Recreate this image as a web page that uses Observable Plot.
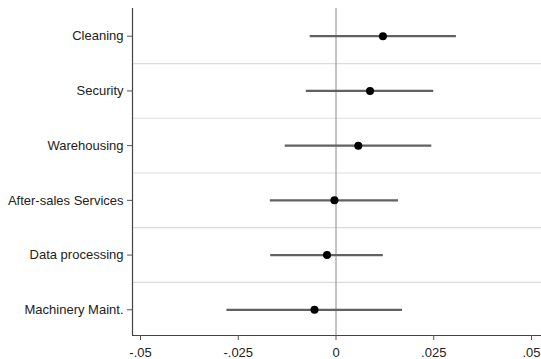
<!DOCTYPE html>
<html>
<head>
<meta charset="utf-8">
<script src="https://cdn.jsdelivr.net/npm/d3@7"></script>
<script src="https://cdn.jsdelivr.net/npm/@observablehq/plot@0.6"></script>
<style>
  html, body { margin: 0; padding: 0; background: white; }
</style>
</head>
<body>
<div id="chart"></div>
<script>
const categories = ["Cleaning", "Security", "Warehousing", "After-sales Services", "Data processing", "Machinery Maint."];
const estimates = [0.0120, 0.0087, 0.0057, -0.0004, -0.0023, -0.0055];
const lower = [-0.0066, -0.0076, -0.0130, -0.0168, -0.0167, -0.0279];
const upper = [0.0308, 0.0250, 0.0245, 0.0160, 0.0121, 0.0170];
const xTicks = [-0.05, -0.025, 0, 0.025, 0.05];
const xTickLabels = ["-.05", "-.025", "0", ".025", ".05"];

const data = categories.map((c, i) => ({cat: c, i, est: estimates[i], lo: lower[i], hi: upper[i]}));
const gridPos = d3.range(categories.length - 1).map(i => i + 0.5);
const xDomain = [-0.05205, 0.05256];
const yDomain = [-0.506, 5.47];

const chart = Plot.plot({
  width: 541,
  height: 359,
  marginLeft: 132,
  marginRight: 0,
  marginTop: 8,
  marginBottom: 24,
  style: {fontFamily: "'Liberation Sans', Arial, sans-serif", fontSize: "13px", color: "#222", background: "white"},
  x: {domain: xDomain},
  y: {domain: yDomain, reverse: true},
  marks: [
    Plot.ruleY(gridPos, {stroke: "#dcdcdc", strokeWidth: 1.2}),
    Plot.ruleX([0], {stroke: "#8a8a8a", strokeWidth: 1}),
    Plot.ruleY([yDomain[1]], {stroke: "#444", strokeWidth: 1.2}),
    Plot.ruleX([xDomain[0]], {stroke: "#444", strokeWidth: 1.2}),
    Plot.ruleY(data, {y: "i", x1: "lo", x2: "hi", stroke: "#616161", strokeWidth: 2.2}),
    Plot.dot(data, {x: "est", y: "i", r: 4, fill: "black", stroke: "none"}),
    Plot.axisX({ticks: xTicks, tickFormat: d => xTickLabels[xTicks.indexOf(d)], tickSize: 5, tickPadding: 7, label: null, stroke: "#555"}),
    Plot.axisY({ticks: d3.range(categories.length), tickFormat: i => categories[i], tickSize: 5, tickPadding: 4, label: null, stroke: "#555"})
  ]
});
document.getElementById("chart").appendChild(chart);
</script>
</body>
</html>
